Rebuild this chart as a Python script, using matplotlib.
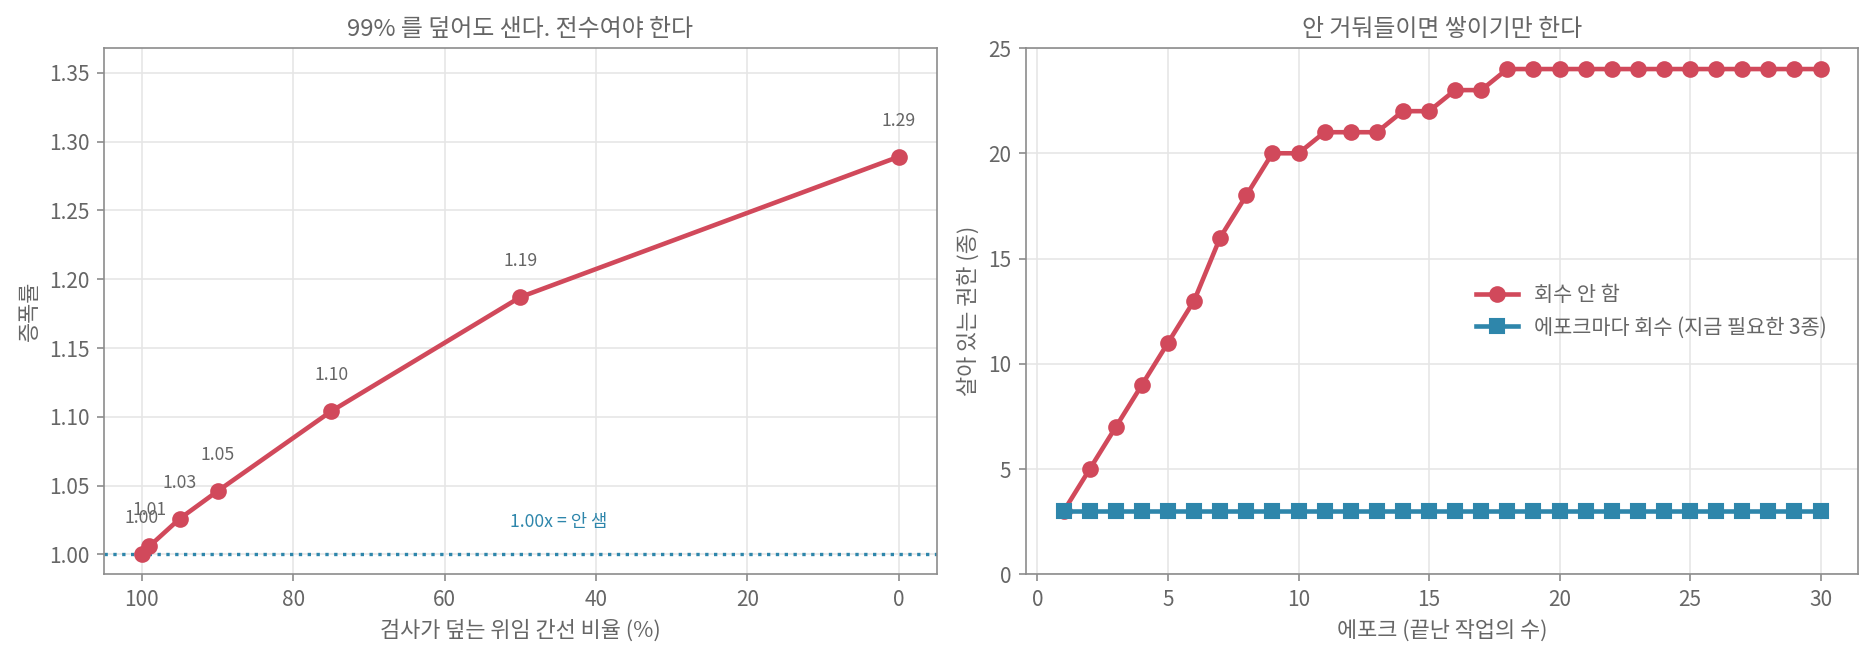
import numpy as np
import matplotlib.pyplot as plt

plt.rcParams['font.family'] = ['Noto Sans CJK KR', 'DejaVu Sans']

# left panel: coverage vs amplification
coverage = [100, 99, 95, 90, 75, 50, 0]
amplification = [1.000, 1.006, 1.026, 1.046, 1.104, 1.187, 1.289]

# right panel: live permissions per epoch
epochs = list(range(1, 31))
no_revoke = [3, 5, 7, 9, 11, 13, 16, 18, 20, 20, 21, 21, 21, 22, 22,
             23, 23, 24, 24, 24, 24, 24, 24, 24, 24, 24, 24, 24, 24, 24]
revoke_each = [3] * 30

RED = '#d1495b'
BLUE = '#2e86ab'
TXT = '#666666'
SPINE = '#8c8c8c'

fig, (ax1, ax2) = plt.subplots(1, 2, figsize=(12.493, 4.387), dpi=150)
fig.subplots_adjust(left=0.0555, right=0.9917, top=0.927, bottom=0.127, wspace=0.107)

for ax in (ax1, ax2):
    ax.grid(True, color='#e6e6e6', linewidth=0.8)
    ax.set_axisbelow(True)
    for s in ax.spines.values():
        s.set_color(SPINE)
    ax.tick_params(colors=SPINE, labelcolor=TXT, labelsize=10)

# left
ax1.axhline(1.0, color=BLUE, linestyle=':', linewidth=1.6, zorder=2)
ax1.plot(coverage, amplification, color=RED, linewidth=2.2, marker='o',
         markersize=7, zorder=3)
for c, a in zip(coverage, amplification):
    ax1.annotate(f'{a:.2f}', (c, a), xytext=(0, 13), textcoords='offset points',
                 ha='center', va='bottom', fontsize=8.5, color=TXT)
ax1.text(45, 1.017, '1.00x = 안 샘', color=BLUE, fontsize=8.5, ha='center', va='bottom')
ax1.set_xlim(105, -5)
ax1.set_ylim(0.9855, 1.368)
ax1.set_title('99% 를 덮어도 샌다. 전수여야 한다', fontsize=11.5, color=TXT)
ax1.set_xlabel('검사가 덮는 위임 간선 비율 (%)', fontsize=10.5, color=TXT)
ax1.set_ylabel('증폭률', fontsize=10.5, color=TXT)

# right
ax2.plot(epochs, no_revoke, color=RED, linewidth=2.2, marker='o', markersize=7,
         label='회수 안 함', zorder=3)
ax2.plot(epochs, revoke_each, color=BLUE, linewidth=2.2, marker='s', markersize=7,
         label='에포크마다 회수 (지금 필요한 3종)', zorder=3)
ax2.set_ylim(0, 25)
ax2.set_title('안 거둬들이면 쌓이기만 한다', fontsize=11.5, color=TXT)
ax2.set_xlabel('에포크 (끝난 작업의 수)', fontsize=10.5, color=TXT)
ax2.set_ylabel('살아 있는 권한 (종)', fontsize=10.5, color=TXT)
leg = ax2.legend(loc='center right', frameon=False, fontsize=10, labelcolor=TXT,
                 bbox_to_anchor=(0.985, 0.5))

fig.savefig('out.png', dpi=150)
